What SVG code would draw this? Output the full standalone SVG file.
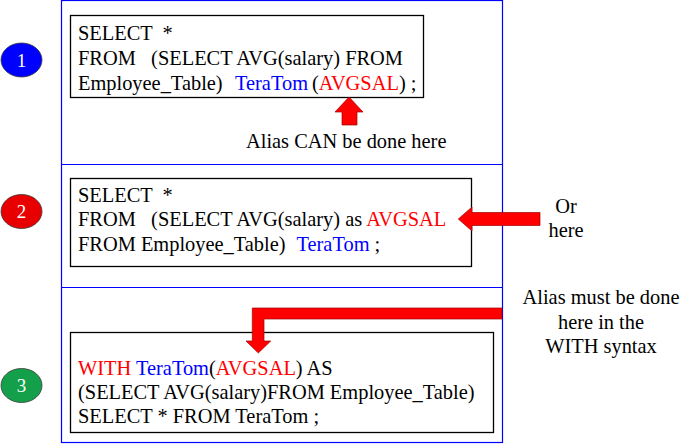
<svg xmlns="http://www.w3.org/2000/svg" width="680" height="444" viewBox="0 0 680 444">
<style>
text{font-family:"Liberation Serif","Times New Roman",serif;font-size:20.4px;fill:#000}
.b{fill:#0000ff}
.r{fill:#ff0000}
.panel{fill:none;stroke:#0000ff;stroke-width:1.2}
.code{fill:#fff;stroke:#000;stroke-width:1.3}
.badge text{fill:#fff;font-size:19px;text-anchor:middle}
.badge ellipse{stroke:#3a3a3a;stroke-width:0.8}
.arrow{fill:#ff0000;stroke:#a00000;stroke-width:0.7;stroke-linejoin:miter}
.lbl{text-anchor:middle}
</style>
<rect width="680" height="444" fill="#fff"/>
<g id="panel">
<rect class="panel" x="61.5" y="0.5" width="441" height="442"/>
<line class="panel" x1="61.5" y1="164.5" x2="502.5" y2="164.5"/>
<line class="panel" x1="61.5" y1="287.5" x2="502.5" y2="287.5"/>
</g>
<g id="badge1" class="badge">
<ellipse cx="21.5" cy="60" rx="20.5" ry="17" fill="#0000ff"/>
<text x="21.5" y="66.5">1</text>
</g>
<g id="badge2" class="badge">
<ellipse cx="21.5" cy="211.5" rx="20.5" ry="17" fill="#e80000"/>
<text x="21.5" y="218">2</text>
</g>
<g id="badge3" class="badge">
<ellipse cx="21.5" cy="385.5" rx="20.5" ry="17" fill="#14a04a"/>
<text x="21.5" y="392">3</text>
</g>
<g id="box1">
<rect class="code" x="70.5" y="15.5" width="353" height="82"/>
<text x="78" y="40" xml:space="preserve">SELECT  *</text>
<text x="78" y="65" xml:space="preserve">FROM   (SELECT AVG(salary) FROM</text>
<text y="89.5" xml:space="preserve"><tspan x="78">Employee_Table)</tspan><tspan x="235" class="b">TeraTom</tspan><tspan x="312">(</tspan><tspan class="r">AVGSAL</tspan><tspan>) ;</tspan></text>
</g>
<g id="box2">
<rect class="code" x="70.5" y="178.5" width="401" height="88"/>
<text x="78" y="202" xml:space="preserve">SELECT  *</text>
<text x="78" y="226" xml:space="preserve">FROM   (SELECT AVG(salary) as <tspan class="r">AVGSAL</tspan></text>
<text y="250.5" xml:space="preserve"><tspan x="78">FROM Employee_Table)</tspan><tspan x="296.5" class="b">TeraTom</tspan><tspan> ;</tspan></text>
</g>
<g id="box3">
<rect class="code" x="70.5" y="332.5" width="423" height="100"/>
<text x="78" y="374.5" xml:space="preserve"><tspan class="r">WITH</tspan> <tspan class="b">TeraTom</tspan>(<tspan class="r">AVGSAL</tspan>) AS</text>
<text x="78" y="398.5">(SELECT AVG(salary)FROM Employee_Table)</text>
<text x="78" y="422.5">SELECT * FROM TeraTom ;</text>
</g>
<g id="label1">
<text x="246" y="147.7">Alias CAN be done here</text>
</g>
<g id="label2" class="lbl">
<text x="566" y="212.7">Or</text>
<text x="566" y="237.3">here</text>
</g>
<g id="label3" class="lbl">
<text x="601" y="304.3">Alias must be done</text>
<text x="601" y="329.3">here in the</text>
<text x="601" y="353.3">WITH syntax</text>
</g>
<g id="connectors">
<polygon class="arrow" points="349,97 363,112 357,112 357,125 342,125 342,112 335,112"/>
<polygon class="arrow" points="458.3,219 472,207 472,212.5 540,212.5 540,225.5 472,225.5 472,231"/>
<polygon class="arrow" points="502,308 252.3,308 252.3,341 246,341 258.3,353 270.7,341 264,341 264,319 502,319"/>
</g>
</svg>
